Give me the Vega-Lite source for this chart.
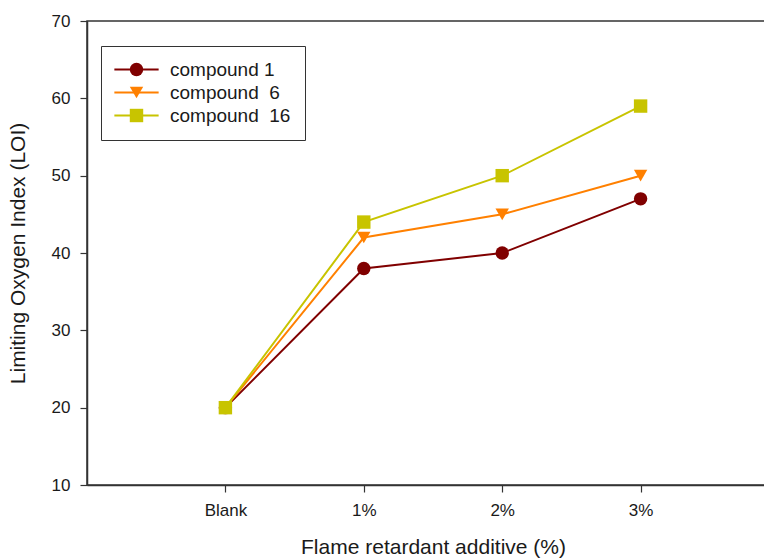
{
  "$schema": "https://vega.github.io/schema/vega-lite/v6.json",
  "width": 692,
  "height": 464,
  "autosize": {"type": "none"},
  "padding": {"left": 87, "top": 21, "right": 0, "bottom": 75},
  "background": "white",
  "config": {
    "font": "Liberation Sans",
    "view": {"stroke": "#333333", "strokeWidth": 1.5},
    "axis": {
      "grid": false,
      "domainColor": "#333333",
      "domainWidth": 1.5,
      "tickColor": "#333333",
      "tickWidth": 1.2,
      "tickSize": 7,
      "labelColor": "#1a1a1a",
      "titleColor": "#1a1a1a",
      "labelFont": "Liberation Sans",
      "titleFont": "Liberation Sans",
      "labelFontSize": 17,
      "titleFontSize": 21,
      "titleFontWeight": "normal"
    }
  },
  "data": {
    "values": [
      {"series": "compound 1", "x": 0, "loi": 20},
      {"series": "compound 1", "x": 1, "loi": 38},
      {"series": "compound 1", "x": 2, "loi": 40},
      {"series": "compound 1", "x": 3, "loi": 47},
      {"series": "compound 6", "x": 0, "loi": 20},
      {"series": "compound 6", "x": 1, "loi": 42},
      {"series": "compound 6", "x": 2, "loi": 45},
      {"series": "compound 6", "x": 3, "loi": 50},
      {"series": "compound 16", "x": 0, "loi": 20},
      {"series": "compound 16", "x": 1, "loi": 44},
      {"series": "compound 16", "x": 2, "loi": 50},
      {"series": "compound 16", "x": 3, "loi": 59}
    ]
  },
  "encoding": {
    "x": {
      "field": "x",
      "type": "quantitative",
      "scale": {"domain": [-1, 4], "nice": false, "zero": false},
      "axis": {
        "values": [0, 1, 2, 3],
        "labelExpr": "['Blank','1%','2%','3%'][datum.value]",
        "labelPadding": 10,
        "title": "Flame retardant additive (%)",
        "titlePadding": 18
      }
    },
    "y": {
      "field": "loi",
      "type": "quantitative",
      "scale": {"domain": [10, 70], "nice": false, "zero": false},
      "axis": {
        "values": [10, 20, 30, 40, 50, 60, 70],
        "labelPadding": 10,
        "title": "Limiting Oxygen Index (LOI)",
        "titlePadding": 23
      }
    }
  },
  "layer": [
    {
      "mark": {"type": "line", "strokeWidth": 2},
      "encoding": {
        "stroke": {
          "field": "series",
          "type": "nominal",
          "scale": {
            "domain": ["compound 16", "compound 6", "compound 1"],
            "range": ["#C8C400", "#FF8000", "#800000"]
          },
          "legend": {
            "values": ["compound 1", "compound 6", "compound 16"],
            "orient": "none",
            "legendX": 14,
            "legendY": 25,
            "title": null,
            "padding": 14,
            "strokeColor": "#333333",
            "fillColor": "white",
            "symbolType": "M-3.3,0H3.3",
            "symbolSize": 180,
            "symbolStrokeWidth": 2,
            "symbolOffset": 12,
            "labelFontSize": 19,
            "labelFont": "Liberation Sans",
            "labelColor": "#1a1a1a",
            "labelOffset": 24,
            "rowPadding": 3,
            "zindex": 0,
            "labelExpr": "datum.value == 'compound 1' ? 'compound 1' : (datum.value == 'compound 6' ? 'compound\u00a0\u00a06' : 'compound\u00a0\u00a016')"
          }
        }
      }
    },
    {
      "mark": {"type": "point", "filled": true, "size": 180, "opacity": 1},
      "encoding": {
        "color": {
          "field": "series",
          "type": "nominal",
          "scale": {
            "domain": ["compound 1", "compound 6", "compound 16"],
            "range": ["#800000", "#FF8000", "#C8C400"]
          },
          "legend": {
            "orient": "none",
            "legendX": 14,
            "legendY": 25,
            "title": null,
            "padding": 14,
            "symbolSize": 180,
            "symbolOffset": 12,
            "symbolOpacity": 1,
            "labelFontSize": 19,
            "labelFont": "Liberation Sans",
            "labelOffset": 24,
            "rowPadding": 3,
            "zindex": 1,
            "labelExpr": "'\u00a0'"
          }
        },
        "shape": {
          "field": "series",
          "type": "nominal",
          "scale": {
            "domain": ["compound 1", "compound 6", "compound 16"],
            "range": ["circle", "triangle-down", "square"]
          },
          "legend": null
        }
      }
    }
  ]
}
